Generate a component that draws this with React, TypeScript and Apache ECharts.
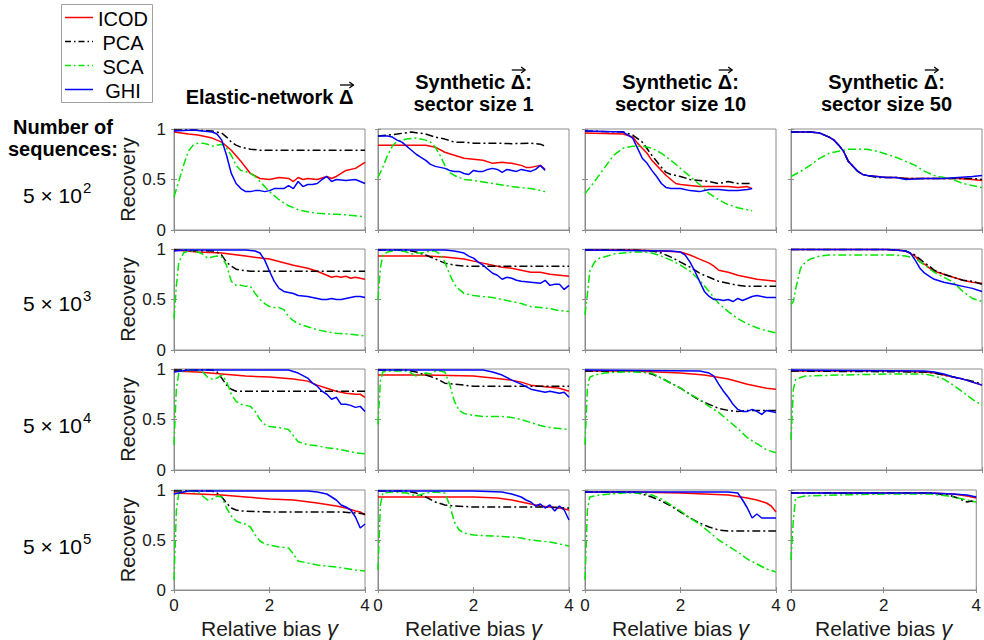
import React, { useEffect, useRef } from "react";
import * as echarts from "echarts";

const FONT = '"Liberation Sans", Arial, Helvetica, sans-serif';

const METHODS = ["ICOD", "PCA", "SCA", "GHI"];
const METHOD_COLORS = ["#ff0000", "#000000", "#00e600", "#0000ff"];
const METHOD_DASH: any[] = ["solid", [8, 3, 2, 3], [8, 3, 2, 3], "solid"];
const LEGEND_DASH: any[] = [null, [6, 3, 1.5, 3], [6, 3, 1.5, 3], null];

// each title: [prefix, vector symbol, suffix] for line 1, optional line 2
const COLUMN_TITLES = [
  { pre: "Elastic-network ", sym: "\u0394", post: "", line2: "" },
  { pre: "Synthetic ", sym: "\u0394", post: ":", line2: "sector size 1" },
  { pre: "Synthetic ", sym: "\u0394", post: ":", line2: "sector size 10" },
  { pre: "Synthetic ", sym: "\u0394", post: ":", line2: "sector size 50" },
];
const ROW_EXPONENTS = ["2", "3", "4", "5"];
const X_TICKS = { min: 0, max: 4, interval: 2 };
const Y_TICKS = { min: 0, max: 1, interval: 0.5 };

// ---------- Row 1: 5 x 10^2 sequences ----------
const R1C1_ICOD = [[0,0.97],[0.3,0.95],[0.5,0.94],[0.8,0.91],[1.0,0.87],[1.2,0.79],[1.4,0.68],[1.6,0.56],[1.8,0.51],[2.0,0.50],[2.2,0.52],[2.4,0.51],[2.5,0.48],[2.6,0.52],[2.7,0.50],[2.8,0.51],[3.0,0.50],[3.2,0.53],[3.3,0.51],[3.4,0.53],[3.6,0.59],[3.8,0.61],[4.0,0.67]];
const R1C1_PCA = [[0,0.99],[0.4,0.99],[0.8,0.98],[1.0,0.96],[1.1,0.92],[1.2,0.87],[1.3,0.84],[1.4,0.82],[1.6,0.80],[1.8,0.79],[2.0,0.79],[3.0,0.79],[4.0,0.79]];
const R1C1_SCA = [[0,0.33],[0.1,0.48],[0.2,0.64],[0.3,0.78],[0.4,0.84],[0.5,0.86],[0.6,0.86],[0.7,0.85],[0.8,0.83],[0.9,0.84],[1.0,0.85],[1.1,0.81],[1.2,0.74],[1.3,0.64],[1.4,0.59],[1.5,0.58],[1.6,0.56],[1.7,0.53],[1.8,0.48],[1.9,0.43],[2.0,0.38],[2.2,0.30],[2.4,0.24],[2.6,0.20],[2.8,0.18],[3.0,0.165],[3.2,0.16],[3.4,0.155],[3.6,0.15],[3.8,0.14],[4.0,0.13]];
const R1C1_GHI = [[0,0.98],[0.4,0.99],[0.8,0.97],[0.9,0.95],[1.0,0.89],[1.1,0.74],[1.2,0.56],[1.3,0.46],[1.4,0.41],[1.5,0.38],[1.6,0.38],[1.7,0.39],[1.8,0.39],[1.9,0.38],[2.0,0.39],[2.1,0.41],[2.2,0.41],[2.3,0.41],[2.4,0.44],[2.5,0.41],[2.6,0.48],[2.7,0.43],[2.8,0.45],[2.9,0.45],[3.0,0.46],[3.1,0.50],[3.2,0.53],[3.3,0.48],[3.4,0.50],[3.6,0.49],[3.8,0.50],[4.0,0.46]];

const R1C2_ICOD = [[0,0.84],[0.5,0.84],[1.0,0.84],[1.2,0.82],[1.4,0.77],[1.6,0.74],[1.8,0.71],[2.0,0.70],[2.2,0.69],[2.4,0.66],[2.6,0.67],[2.8,0.66],[3.0,0.64],[3.1,0.62],[3.2,0.62],[3.3,0.63],[3.4,0.64],[3.5,0.60]];
const R1C2_PCA = [[0,0.93],[0.4,0.95],[0.7,0.97],[1.0,0.95],[1.2,0.92],[1.4,0.90],[1.6,0.87],[1.8,0.87],[2.0,0.86],[2.4,0.86],[2.8,0.855],[3.2,0.86],[3.4,0.85],[3.5,0.83]];
const R1C2_SCA = [[0,0.52],[0.1,0.62],[0.2,0.74],[0.3,0.83],[0.4,0.88],[0.6,0.90],[0.8,0.91],[1.0,0.89],[1.1,0.87],[1.2,0.82],[1.3,0.74],[1.4,0.64],[1.5,0.57],[1.6,0.54],[1.8,0.50],[2.0,0.49],[2.4,0.46],[2.8,0.43],[3.2,0.41],[3.5,0.38]];
const R1C2_GHI = [[0,0.93],[0.2,0.93],[0.3,0.92],[0.4,0.89],[0.5,0.87],[0.6,0.83],[0.7,0.79],[0.8,0.75],[0.9,0.72],[1.0,0.69],[1.1,0.65],[1.2,0.63],[1.3,0.62],[1.4,0.61],[1.5,0.59],[1.6,0.58],[1.7,0.58],[1.8,0.56],[1.9,0.55],[2.0,0.59],[2.1,0.58],[2.2,0.58],[2.3,0.60],[2.4,0.61],[2.5,0.60],[2.6,0.57],[2.7,0.60],[2.8,0.59],[2.9,0.58],[3.0,0.60],[3.1,0.59],[3.2,0.58],[3.3,0.60],[3.4,0.64],[3.5,0.59]];

const R1C3_ICOD = [[0,0.96],[0.8,0.95],[1.0,0.92],[1.1,0.86],[1.2,0.81],[1.3,0.76],[1.4,0.69],[1.5,0.64],[1.6,0.59],[1.7,0.54],[1.8,0.50],[1.9,0.46],[2.0,0.45],[2.2,0.44],[2.4,0.43],[2.6,0.43],[2.8,0.43],[3.0,0.43],[3.2,0.42],[3.4,0.43],[3.5,0.41]];
const R1C3_PCA = [[0,0.98],[0.8,0.97],[1.0,0.94],[1.2,0.87],[1.4,0.74],[1.5,0.68],[1.6,0.62],[1.7,0.57],[1.8,0.55],[2.0,0.53],[2.2,0.50],[2.4,0.49],[2.6,0.48],[2.8,0.46],[3.0,0.48],[3.2,0.46],[3.4,0.46],[3.5,0.46]];
const R1C3_SCA = [[0,0.36],[0.2,0.48],[0.4,0.61],[0.6,0.74],[0.8,0.81],[1.0,0.83],[1.2,0.83],[1.4,0.81],[1.6,0.76],[1.8,0.69],[2.0,0.61],[2.2,0.53],[2.4,0.45],[2.6,0.36],[2.8,0.30],[3.0,0.25],[3.2,0.22],[3.4,0.20],[3.5,0.19]];
const R1C3_GHI = [[0,0.98],[0.8,0.97],[1.0,0.91],[1.1,0.81],[1.2,0.71],[1.3,0.66],[1.4,0.59],[1.5,0.53],[1.6,0.46],[1.7,0.42],[1.8,0.41],[2.0,0.41],[2.2,0.39],[2.4,0.38],[2.6,0.40],[2.8,0.40],[3.0,0.39],[3.2,0.39],[3.4,0.40],[3.5,0.41]];

const R1C4_ICOD = [[0,0.97],[0.4,0.97],[0.6,0.96],[0.8,0.92],[0.9,0.89],[1.0,0.84],[1.1,0.78],[1.2,0.68],[1.3,0.63],[1.4,0.58],[1.5,0.55],[1.6,0.54],[1.8,0.53],[2.0,0.52],[2.2,0.52],[2.4,0.51],[2.8,0.51],[3.0,0.51],[3.2,0.51],[3.5,0.51],[3.8,0.50],[4.0,0.49]];
const R1C4_PCA = [[0,0.97],[0.4,0.97],[0.6,0.96],[0.8,0.92],[0.9,0.89],[1.0,0.84],[1.1,0.78],[1.2,0.68],[1.3,0.63],[1.4,0.58],[1.5,0.55],[1.6,0.54],[1.8,0.52],[2.0,0.52],[2.2,0.52],[2.4,0.51],[2.8,0.51],[3.0,0.51],[3.2,0.51],[3.5,0.51],[3.8,0.51],[4.0,0.50]];
const R1C4_SCA = [[0,0.53],[0.2,0.58],[0.4,0.64],[0.6,0.71],[0.8,0.76],[1.0,0.78],[1.2,0.80],[1.4,0.80],[1.6,0.80],[1.8,0.78],[2.0,0.75],[2.2,0.72],[2.4,0.68],[2.6,0.64],[2.8,0.58],[3.0,0.54],[3.2,0.52],[3.4,0.50],[3.6,0.46],[3.8,0.44],[4.0,0.42]];
const R1C4_GHI = [[0,0.97],[0.4,0.97],[0.6,0.96],[0.8,0.92],[0.9,0.89],[1.0,0.84],[1.1,0.78],[1.2,0.68],[1.3,0.63],[1.4,0.58],[1.5,0.55],[1.6,0.54],[1.8,0.53],[2.0,0.52],[2.2,0.52],[2.4,0.50],[2.8,0.51],[3.0,0.51],[3.2,0.51],[3.5,0.52],[3.8,0.53],[4.0,0.54]];

// ---------- Row 2: 5 x 10^3 sequences ----------
const R2C1_ICOD = [[0,0.99],[0.5,0.97],[1.0,0.96],[1.5,0.93],[2.0,0.90],[2.5,0.84],[2.8,0.81],[3.0,0.78],[3.2,0.74],[3.3,0.72],[3.4,0.73],[3.5,0.72],[3.6,0.73],[3.7,0.71],[3.8,0.72],[3.9,0.71],[4.0,0.70]];
const R2C1_PCA = [[0,0.99],[0.8,0.98],[0.9,0.97],[1.0,0.94],[1.1,0.87],[1.2,0.83],[1.3,0.80],[1.4,0.79],[1.6,0.78],[4.0,0.78]];
const R2C1_SCA = [[0,0.31],[0.05,0.64],[0.1,0.87],[0.2,0.96],[0.3,0.98],[0.4,0.98],[0.5,0.97],[0.6,0.95],[0.7,0.91],[0.8,0.92],[0.9,0.93],[1.0,0.92],[1.1,0.84],[1.2,0.68],[1.3,0.64],[1.4,0.64],[1.5,0.63],[1.6,0.63],[1.7,0.56],[1.8,0.50],[1.9,0.46],[2.0,0.43],[2.1,0.42],[2.2,0.42],[2.3,0.40],[2.4,0.33],[2.5,0.29],[2.6,0.26],[2.8,0.23],[3.0,0.20],[3.2,0.18],[3.4,0.165],[3.6,0.16],[3.8,0.15],[4.0,0.14]];
const R2C1_GHI = [[0,0.98],[0.2,0.99],[1.5,0.99],[1.7,0.98],[1.8,0.96],[1.9,0.89],[2.0,0.78],[2.1,0.68],[2.2,0.61],[2.3,0.58],[2.4,0.57],[2.5,0.56],[2.6,0.54],[2.8,0.53],[3.0,0.51],[3.1,0.50],[3.2,0.50],[3.3,0.51],[3.4,0.50],[3.5,0.50],[3.6,0.51],[3.8,0.53],[3.9,0.53],[4.0,0.52]];

const R2C2_ICOD = [[0,0.93],[1.0,0.93],[1.4,0.92],[1.8,0.90],[2.0,0.88],[2.2,0.86],[2.4,0.84],[2.6,0.82],[2.8,0.81],[3.0,0.79],[3.2,0.77],[3.4,0.77],[3.6,0.75],[3.8,0.74],[4.0,0.73]];
const R2C2_PCA = [[0,0.99],[0.6,0.99],[0.8,0.97],[1.0,0.94],[1.2,0.90],[1.4,0.86],[1.6,0.84],[1.8,0.83],[2.0,0.83],[4.0,0.83]];
const R2C2_SCA = [[0,0.50],[0.05,0.81],[0.1,0.94],[0.2,0.97],[0.3,0.98],[0.4,0.99],[0.5,0.98],[0.6,0.97],[0.7,0.95],[0.8,0.96],[0.9,0.96],[1.0,0.97],[1.1,0.98],[1.2,0.98],[1.3,0.95],[1.4,0.87],[1.5,0.75],[1.6,0.65],[1.7,0.60],[1.8,0.56],[1.9,0.55],[2.0,0.54],[2.2,0.53],[2.4,0.52],[2.6,0.50],[2.8,0.48],[3.0,0.46],[3.2,0.43],[3.4,0.42],[3.6,0.41],[3.8,0.39],[4.0,0.38]];
const R2C2_GHI = [[0,0.99],[1.4,0.99],[1.6,0.98],[1.7,0.97],[1.8,0.96],[1.9,0.93],[2.0,0.91],[2.1,0.87],[2.2,0.84],[2.3,0.80],[2.4,0.76],[2.5,0.74],[2.6,0.70],[2.7,0.72],[2.8,0.71],[2.9,0.69],[3.0,0.68],[3.2,0.67],[3.4,0.66],[3.5,0.69],[3.6,0.64],[3.7,0.65],[3.8,0.65],[3.9,0.60],[4.0,0.64]];

const R2C3_ICOD = [[0,0.99],[1.0,0.99],[1.6,0.98],[2.0,0.97],[2.2,0.94],[2.4,0.90],[2.6,0.86],[2.7,0.83],[2.8,0.79],[3.0,0.77],[3.2,0.74],[3.4,0.72],[3.6,0.70],[3.8,0.69],[4.0,0.68]];
const R2C3_PCA = [[0,0.99],[1.0,0.99],[1.4,0.98],[1.6,0.96],[1.8,0.92],[2.0,0.87],[2.2,0.82],[2.4,0.76],[2.6,0.72],[2.8,0.68],[3.0,0.66],[3.2,0.64],[3.4,0.63],[3.6,0.63],[4.0,0.63]];
const R2C3_SCA = [[0,0.35],[0.05,0.55],[0.1,0.78],[0.2,0.87],[0.3,0.91],[0.4,0.92],[0.6,0.95],[0.8,0.96],[1.0,0.97],[1.2,0.97],[1.4,0.96],[1.6,0.93],[1.8,0.89],[2.0,0.84],[2.2,0.78],[2.4,0.69],[2.6,0.58],[2.8,0.46],[3.0,0.38],[3.2,0.31],[3.4,0.26],[3.6,0.22],[3.8,0.19],[4.0,0.17]];
const R2C3_GHI = [[0,0.99],[1.8,0.98],[2.0,0.97],[2.1,0.94],[2.2,0.87],[2.3,0.78],[2.4,0.68],[2.5,0.58],[2.6,0.53],[2.7,0.50],[2.8,0.50],[2.9,0.49],[3.0,0.50],[3.1,0.48],[3.2,0.51],[3.3,0.49],[3.4,0.51],[3.5,0.53],[3.6,0.54],[3.8,0.52],[4.0,0.52]];

const R2C4_ICOD = [[0,0.995],[2.0,0.995],[2.2,0.99],[2.4,0.98],[2.6,0.93],[2.7,0.87],[2.8,0.85],[2.9,0.81],[3.0,0.78],[3.2,0.75],[3.4,0.72],[3.6,0.69],[3.8,0.67],[4.0,0.66]];
const R2C4_PCA = [[0,0.995],[2.0,0.995],[2.2,0.99],[2.4,0.98],[2.6,0.94],[2.7,0.90],[2.8,0.86],[2.9,0.83],[3.0,0.79],[3.2,0.75],[3.4,0.72],[3.6,0.69],[3.8,0.68],[4.0,0.65]];
const R2C4_SCA = [[0,0.45],[0.05,0.48],[0.1,0.61],[0.2,0.81],[0.3,0.87],[0.4,0.90],[0.6,0.93],[0.8,0.94],[1.0,0.94],[2.2,0.94],[2.4,0.93],[2.6,0.91],[2.8,0.84],[3.0,0.77],[3.2,0.72],[3.4,0.67],[3.6,0.58],[3.8,0.51],[4.0,0.48]];
const R2C4_GHI = [[0,0.995],[2.0,0.995],[2.2,0.99],[2.4,0.98],[2.5,0.96],[2.6,0.89],[2.7,0.81],[2.8,0.76],[2.9,0.73],[3.0,0.70],[3.2,0.67],[3.4,0.65],[3.6,0.63],[3.8,0.61],[4.0,0.58]];

// ---------- Row 3: 5 x 10^4 sequences ----------
const R3C1_ICOD = [[0,0.98],[0.5,0.97],[1.0,0.95],[1.5,0.93],[2.0,0.92],[2.5,0.90],[2.8,0.88],[3.0,0.84],[3.2,0.81],[3.4,0.78],[3.6,0.76],[3.8,0.75],[3.9,0.75],[4.0,0.72]];
const R3C1_PCA = [[0,0.99],[0.8,0.99],[0.9,0.97],[1.0,0.91],[1.1,0.84],[1.2,0.80],[1.3,0.78],[1.4,0.78],[4.0,0.78]];
const R3C1_SCA = [[0,0.25],[0.05,0.81],[0.1,0.96],[0.2,0.98],[0.4,0.99],[0.6,0.97],[0.7,0.92],[0.8,0.90],[0.9,0.91],[1.0,0.94],[1.1,0.88],[1.2,0.75],[1.3,0.68],[1.4,0.65],[1.5,0.64],[1.6,0.63],[1.7,0.58],[1.8,0.50],[1.9,0.45],[2.0,0.43],[2.2,0.42],[2.4,0.40],[2.5,0.34],[2.6,0.28],[2.8,0.25],[3.0,0.24],[3.2,0.22],[3.4,0.21],[3.6,0.19],[3.8,0.17],[4.0,0.16]];
const R3C1_GHI = [[0,0.97],[0.3,0.99],[2.4,0.99],[2.6,0.96],[2.8,0.91],[2.9,0.86],[3.0,0.83],[3.1,0.78],[3.2,0.75],[3.3,0.70],[3.4,0.72],[3.5,0.65],[3.6,0.65],[3.7,0.64],[3.8,0.62],[3.9,0.63],[4.0,0.58]];

const R3C2_ICOD = [[0,0.94],[1.0,0.94],[2.0,0.93],[2.4,0.91],[2.8,0.89],[3.0,0.87],[3.2,0.84],[3.4,0.83],[3.6,0.82],[3.8,0.81],[4.0,0.78]];
const R3C2_PCA = [[0,0.99],[0.6,0.99],[0.8,0.97],[1.0,0.94],[1.2,0.91],[1.4,0.86],[1.6,0.85],[1.8,0.84],[2.0,0.83],[4.0,0.83]];
const R3C2_SCA = [[0,0.45],[0.05,0.88],[0.1,0.97],[0.2,0.98],[0.4,0.98],[0.6,0.98],[0.7,0.96],[0.8,0.93],[0.9,0.94],[1.0,0.96],[1.1,0.95],[1.2,0.98],[1.3,0.98],[1.4,0.97],[1.5,0.85],[1.6,0.68],[1.7,0.59],[1.8,0.56],[2.0,0.54],[2.2,0.53],[2.6,0.53],[2.8,0.52],[3.0,0.50],[3.2,0.47],[3.4,0.44],[3.6,0.42],[3.8,0.41],[4.0,0.40]];
const R3C2_GHI = [[0,0.99],[2.2,0.99],[2.4,0.97],[2.6,0.94],[2.8,0.89],[3.0,0.85],[3.2,0.80],[3.4,0.78],[3.5,0.77],[3.6,0.78],[3.8,0.76],[3.9,0.77],[4.0,0.72]];

const R3C3_ICOD = [[0,0.98],[1.0,0.98],[2.0,0.96],[2.5,0.94],[3.0,0.90],[3.4,0.85],[3.6,0.83],[3.8,0.81],[4.0,0.80]];
const R3C3_PCA = [[0,0.98],[1.0,0.98],[1.2,0.97],[1.4,0.95],[1.6,0.91],[1.8,0.86],[2.0,0.81],[2.2,0.75],[2.4,0.69],[2.6,0.65],[2.8,0.61],[3.0,0.59],[3.2,0.58],[3.4,0.59],[4.0,0.59]];
const R3C3_SCA = [[0,0.25],[0.05,0.81],[0.1,0.92],[0.2,0.94],[0.4,0.96],[0.8,0.97],[1.2,0.97],[1.4,0.96],[1.6,0.91],[1.8,0.86],[2.0,0.81],[2.2,0.75],[2.4,0.70],[2.6,0.63],[2.8,0.57],[3.0,0.49],[3.2,0.41],[3.4,0.32],[3.6,0.26],[3.8,0.20],[4.0,0.17]];
const R3C3_GHI = [[0,0.99],[2.4,0.98],[2.6,0.96],[2.7,0.93],[2.8,0.85],[2.9,0.78],[3.0,0.72],[3.1,0.65],[3.2,0.60],[3.3,0.58],[3.4,0.58],[3.5,0.60],[3.6,0.58],[3.7,0.55],[3.8,0.59],[3.9,0.58],[4.0,0.57]];

const R3C4_ICOD = [[0,0.98],[1.0,0.98],[2.0,0.98],[2.8,0.97],[3.0,0.96],[3.2,0.94],[3.4,0.92],[3.6,0.90],[3.8,0.87],[4.0,0.84]];
const R3C4_PCA = [[0,0.98],[2.8,0.97],[3.0,0.96],[3.2,0.94],[3.4,0.92],[3.6,0.90],[3.8,0.88],[4.0,0.85]];
const R3C4_SCA = [[0,0.30],[0.05,0.80],[0.1,0.90],[0.3,0.93],[1.0,0.94],[2.0,0.95],[2.8,0.95],[3.0,0.93],[3.2,0.90],[3.4,0.84],[3.6,0.77],[3.8,0.70],[4.0,0.64]];
const R3C4_GHI = [[0,0.99],[2.8,0.98],[3.0,0.97],[3.2,0.95],[3.4,0.92],[3.6,0.90],[3.8,0.87],[4.0,0.84]];

// ---------- Row 4: 5 x 10^5 sequences ----------
const R4C1_ICOD = [[0,0.97],[0.5,0.96],[1.0,0.95],[1.5,0.93],[2.0,0.91],[2.5,0.90],[3.0,0.87],[3.4,0.84],[3.6,0.82],[3.8,0.79],[3.9,0.78],[4.0,0.75]];
const R4C1_PCA = [[0,0.99],[0.8,0.99],[0.9,0.97],[1.0,0.93],[1.1,0.87],[1.2,0.82],[1.3,0.80],[1.4,0.79],[2.0,0.78],[3.5,0.78],[3.8,0.77],[4.0,0.76]];
const R4C1_SCA = [[0,0.10],[0.05,0.80],[0.1,0.97],[0.3,0.99],[0.5,0.98],[0.6,0.94],[0.7,0.90],[0.8,0.91],[0.9,0.94],[1.0,0.93],[1.1,0.82],[1.2,0.74],[1.3,0.69],[1.4,0.67],[1.5,0.66],[1.6,0.63],[1.7,0.55],[1.8,0.49],[1.9,0.46],[2.0,0.45],[2.2,0.43],[2.4,0.42],[2.5,0.36],[2.6,0.29],[2.8,0.27],[3.0,0.25],[3.4,0.23],[3.8,0.20],[4.0,0.19]];
const R4C1_GHI = [[0,0.96],[0.3,0.99],[1.0,0.99],[2.0,0.99],[2.8,0.99],[3.0,0.98],[3.2,0.96],[3.4,0.90],[3.5,0.85],[3.6,0.83],[3.7,0.80],[3.8,0.73],[3.9,0.62],[4.0,0.66]];

const R4C2_ICOD = [[0,0.93],[1.0,0.93],[2.0,0.93],[2.5,0.92],[2.8,0.90],[3.0,0.88],[3.2,0.86],[3.4,0.84],[3.6,0.83],[3.8,0.82],[4.0,0.80]];
const R4C2_PCA = [[0,0.99],[0.6,0.99],[0.8,0.97],[1.0,0.93],[1.2,0.88],[1.4,0.85],[1.6,0.84],[2.0,0.83],[3.5,0.83],[4.0,0.82]];
const R4C2_SCA = [[0,0.20],[0.05,0.85],[0.1,0.97],[0.3,0.98],[0.6,0.97],[0.8,0.94],[1.0,0.97],[1.2,0.98],[1.4,0.97],[1.5,0.85],[1.6,0.68],[1.7,0.60],[1.8,0.57],[2.0,0.55],[2.4,0.54],[2.8,0.53],[3.0,0.52],[3.2,0.50],[3.4,0.49],[3.6,0.48],[3.8,0.46],[4.0,0.44]];
const R4C2_GHI = [[0,0.99],[2.0,0.99],[2.6,0.98],[2.8,0.96],[3.0,0.93],[3.1,0.90],[3.2,0.88],[3.3,0.84],[3.4,0.86],[3.5,0.82],[3.6,0.85],[3.7,0.79],[3.8,0.84],[3.9,0.80],[4.0,0.70]];

const R4C3_ICOD = [[0,0.98],[1.0,0.98],[2.0,0.97],[2.5,0.96],[3.0,0.95],[3.4,0.92],[3.6,0.90],[3.8,0.87],[3.9,0.84],[4.0,0.78]];
const R4C3_PCA = [[0,0.98],[1.0,0.98],[1.2,0.96],[1.4,0.93],[1.6,0.89],[1.8,0.84],[2.0,0.78],[2.2,0.72],[2.4,0.67],[2.6,0.63],[2.8,0.60],[3.0,0.59],[4.0,0.59]];
const R4C3_SCA = [[0,0.10],[0.05,0.80],[0.1,0.93],[0.3,0.95],[0.8,0.97],[1.2,0.97],[1.4,0.95],[1.6,0.91],[1.8,0.85],[2.0,0.79],[2.2,0.72],[2.4,0.66],[2.6,0.58],[2.8,0.50],[3.0,0.44],[3.2,0.38],[3.4,0.31],[3.6,0.26],[3.8,0.21],[4.0,0.18]];
const R4C3_GHI = [[0,0.98],[2.0,0.98],[3.0,0.98],[3.2,0.97],[3.3,0.90],[3.4,0.82],[3.5,0.72],[3.6,0.76],[3.7,0.72],[3.8,0.72],[4.0,0.72]];

const R4C4_ICOD = [[0,0.97],[2.0,0.97],[3.0,0.97],[3.5,0.96],[3.8,0.94],[4.0,0.92]];
const R4C4_PCA = [[0,0.97],[3.0,0.97],[3.4,0.95],[3.6,0.92],[3.8,0.88],[3.9,0.89],[4.0,0.87]];
const R4C4_SCA = [[0,0.30],[0.05,0.70],[0.1,0.92],[0.3,0.94],[1.0,0.95],[2.0,0.96],[3.0,0.96],[3.4,0.94],[3.6,0.92],[3.8,0.90],[4.0,0.88]];
const R4C4_GHI = [[0,0.97],[3.0,0.97],[3.5,0.96],[3.8,0.95],[4.0,0.93]];

const PANELS = [
  [[R1C1_ICOD, R1C1_PCA, R1C1_SCA, R1C1_GHI], [R1C2_ICOD, R1C2_PCA, R1C2_SCA, R1C2_GHI], [R1C3_ICOD, R1C3_PCA, R1C3_SCA, R1C3_GHI], [R1C4_ICOD, R1C4_PCA, R1C4_SCA, R1C4_GHI]],
  [[R2C1_ICOD, R2C1_PCA, R2C1_SCA, R2C1_GHI], [R2C2_ICOD, R2C2_PCA, R2C2_SCA, R2C2_GHI], [R2C3_ICOD, R2C3_PCA, R2C3_SCA, R2C3_GHI], [R2C4_ICOD, R2C4_PCA, R2C4_SCA, R2C4_GHI]],
  [[R3C1_ICOD, R3C1_PCA, R3C1_SCA, R3C1_GHI], [R3C2_ICOD, R3C2_PCA, R3C2_SCA, R3C2_GHI], [R3C3_ICOD, R3C3_PCA, R3C3_SCA, R3C3_GHI], [R3C4_ICOD, R3C4_PCA, R3C4_SCA, R3C4_GHI]],
  [[R4C1_ICOD, R4C1_PCA, R4C1_SCA, R4C1_GHI], [R4C2_ICOD, R4C2_PCA, R4C2_SCA, R4C2_GHI], [R4C3_ICOD, R4C3_PCA, R4C3_SCA, R4C3_GHI], [R4C4_ICOD, R4C4_PCA, R4C4_SCA, R4C4_GHI]],
];

// layout
const COL_LEFT = [174, 378, 585, 791];
const ROW_TOP = [129, 249, 369, 490];
const PANEL_W = 191;
const PANEL_H = 101;
const ROW_LABEL_Y = [195.5, 303, 425, 546];

let measureCtx: CanvasRenderingContext2D | null = null;
function textWidth(text: string, font: string): number {
  if (!measureCtx) measureCtx = document.createElement("canvas").getContext("2d");
  if (!measureCtx) return text.length * 10;
  measureCtx.font = font;
  return measureCtx.measureText(text).width;
}

function txt(x: number, y: number, text: string, font: string, align = "center", extra: any = {}) {
  return {
    type: "text", x, y, ...extra,
    style: { text, font, fill: "#000", textAlign: align, textVerticalAlign: "middle", align, verticalAlign: "middle" },
  };
}

function buildOption() {
  const grid: any[] = [];
  const xAxis: any[] = [];
  const yAxis: any[] = [];
  const series: any[] = [];
  const axisColor = "#8c8c8c";
  const tick = { show: true, inside: true, length: 3, lineStyle: { color: axisColor } };
  for (let r = 0; r < 4; r++) {
    for (let c = 0; c < 4; c++) {
      const i = r * 4 + c;
      grid.push({
        left: COL_LEFT[c], top: ROW_TOP[r], width: PANEL_W, height: PANEL_H,
        show: true, borderColor: axisColor, borderWidth: 1, backgroundColor: "#fff",
      });
      xAxis.push({
        gridIndex: i, type: "value", position: "bottom", ...X_TICKS,
        axisLine: { show: true, lineStyle: { color: axisColor, width: 1 } },
        axisTick: tick,
        axisLabel: { show: r === 3, color: "#1a1a1a", fontSize: 17, fontFamily: FONT, margin: 7 },
        splitLine: { show: false },
        name: r === 3 ? "Relative bias {g|\u03B3}" : "",
        nameLocation: "middle", nameGap: 27,
        nameTextStyle: {
          fontSize: 21, fontFamily: FONT, color: "#1a1a1a",
          rich: { g: { fontSize: 22, fontStyle: "italic", fontFamily: FONT, color: "#1a1a1a" } },
        },
      });
      yAxis.push({
        gridIndex: i, type: "value", position: "left", ...Y_TICKS,
        axisLine: { show: true, lineStyle: { color: axisColor, width: 1 } },
        axisTick: tick,
        axisLabel: { show: c === 0, color: "#1a1a1a", fontSize: 17, fontFamily: FONT, margin: 8 },
        splitLine: { show: false },
        name: c === 0 ? "Recovery" : "",
        nameLocation: "middle", nameGap: 36, nameRotate: 90,
        nameTextStyle: { fontSize: 20, fontFamily: FONT, color: "#1a1a1a" },
      });
      for (let m = 0; m < 4; m++) {
        series.push({
          type: "line", name: METHODS[m], xAxisIndex: i, yAxisIndex: i,
          data: PANELS[r][c][m], showSymbol: false, symbol: "none", silent: true,
          lineStyle: { color: METHOD_COLORS[m], width: 1.5, type: METHOD_DASH[m] },
          itemStyle: { color: METHOD_COLORS[m] }, z: 2 + m,
        });
      }
    }
  }
  // mirrored box ticks (top and right edges)
  for (let r = 0; r < 4; r++) {
    for (let c = 0; c < 4; c++) {
      const i = r * 4 + c;
      xAxis.push({
        gridIndex: i, type: "value", position: "top", ...X_TICKS,
        axisLine: { show: false }, axisTick: tick, axisLabel: { show: false }, splitLine: { show: false },
      });
      yAxis.push({
        gridIndex: i, type: "value", position: "right", ...Y_TICKS,
        axisLine: { show: false }, axisTick: tick, axisLabel: { show: false }, splitLine: { show: false },
      });
    }
  }

  const graphic: any[] = [];
  // legend box
  graphic.push({ type: "rect", shape: { x: 61.5, y: 4.5, width: 91, height: 98 }, style: { fill: "#fff", stroke: "#a0a0a0", lineWidth: 1 }, z: 10 });
  const legendY = [17.5, 41.5, 65.5, 89.5];
  for (let m = 0; m < 4; m++) {
    graphic.push({
      type: "line", shape: { x1: 65, y1: legendY[m], x2: 93, y2: legendY[m] },
      style: { stroke: METHOD_COLORS[m], lineWidth: 1.5, lineDash: LEGEND_DASH[m] || undefined }, z: 11,
    });
    graphic.push(txt(123, legendY[m] + 1, METHODS[m], `20px ${FONT}`, "center", { z: 11 }));
  }
  // column titles with vector arrow over Delta
  const titleFont = `bold 20px ${FONT}`;
  for (let c = 0; c < 4; c++) {
    const cx = COL_LEFT[c] + PANEL_W / 2;
    const t = COLUMN_TITLES[c];
    const y1 = t.line2 ? 82 : 97;
    const full = t.pre + t.sym + t.post;
    const wFull = textWidth(full, titleFont);
    const wPre = textWidth(t.pre, titleFont);
    const wSym = textWidth(t.sym, titleFont);
    graphic.push(txt(cx, y1, full, titleFont));
    const ax0 = cx - wFull / 2 + wPre + 1;
    const ax1 = ax0 + wSym - 1;
    const ay = y1 - 12;
    graphic.push({ type: "line", shape: { x1: ax0, y1: ay, x2: ax1, y2: ay }, style: { stroke: "#000", lineWidth: 1.3 } });
    graphic.push({ type: "polyline", shape: { points: [[ax1 - 4, ay - 3], [ax1, ay], [ax1 - 4, ay + 3]] }, style: { stroke: "#000", lineWidth: 1.3, fill: null } });
    if (t.line2) graphic.push(txt(cx, 104, t.line2, titleFont));
  }
  // row header
  graphic.push(txt(63, 127, "Number of", `bold 20px ${FONT}`));
  graphic.push(txt(63, 149, "sequences:", `bold 20px ${FONT}`));
  const baseFont = `21px ${FONT}`;
  const baseText = "5 \u00D7 10";
  const baseW = textWidth(baseText, baseFont);
  for (let r = 0; r < 4; r++) {
    graphic.push(txt(23, ROW_LABEL_Y[r], baseText, baseFont, "left"));
    graphic.push(txt(23 + baseW + 1, ROW_LABEL_Y[r] - 8, ROW_EXPONENTS[r], `15px ${FONT}`, "left"));
  }

  return { animation: false, backgroundColor: "#fff", grid, xAxis, yAxis, series, graphic };
}

export default function App() {
  const ref = useRef<HTMLDivElement>(null);
  useEffect(() => {
    if (!ref.current) return;
    const chart = echarts.init(ref.current, null, { renderer: "svg" });
    chart.setOption(buildOption() as any);
    return () => chart.dispose();
  }, []);
  return <div ref={ref} style={{ position: "absolute", left: 0, top: 0, width: 984, height: 640 }} />;
}
